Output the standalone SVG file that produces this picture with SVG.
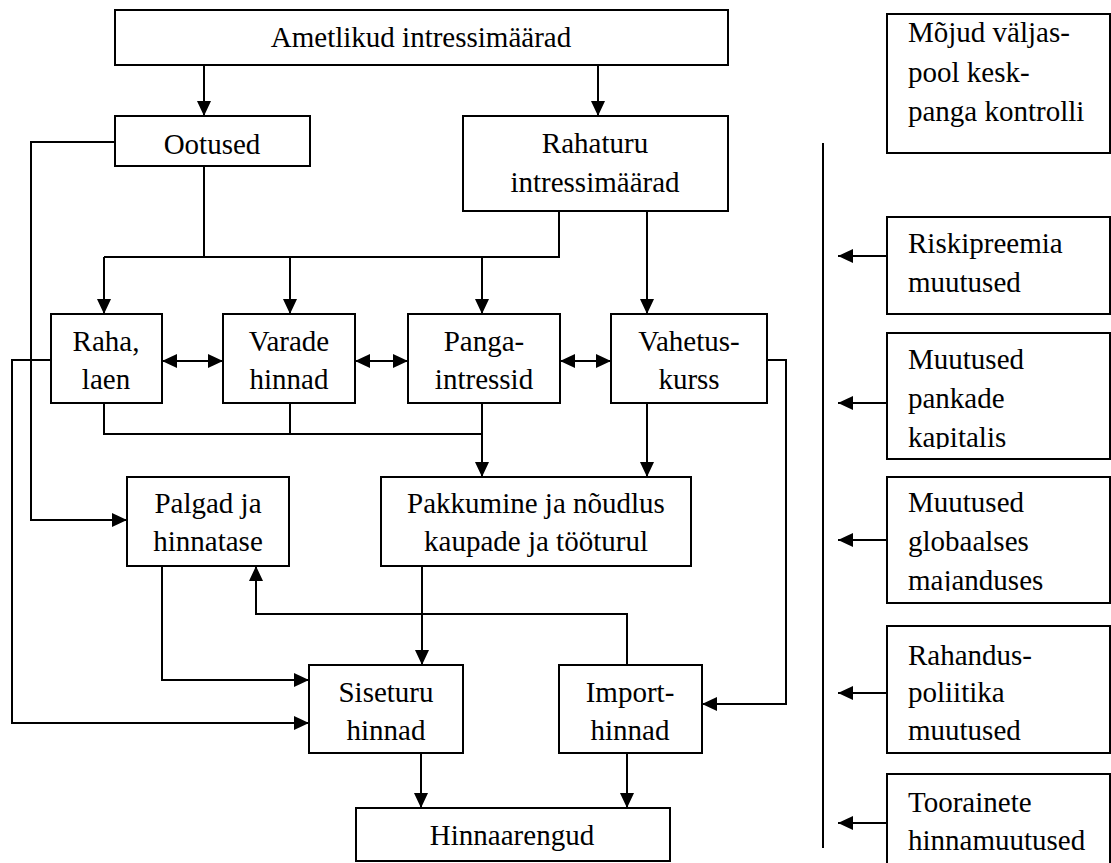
<svg xmlns="http://www.w3.org/2000/svg" width="1111" height="863" viewBox="0 0 1111 863">
<style>
  .box { fill: #ffffff; stroke: #000000; stroke-width: 2; }
  .ln { fill: none; stroke: #000000; stroke-width: 2; }
  text { font-family: "Liberation Serif", "Times New Roman", serif; font-size: 29px; fill: #000000; }
  .c { text-anchor: middle; }
</style>
<defs>
  <marker id="ah" viewBox="0 0 15 14" refX="15" refY="7" markerWidth="15" markerHeight="14" markerUnits="userSpaceOnUse" orient="auto-start-reverse">
    <path d="M0,0 L15,7 L0,14 Z" fill="#000000"/>
  </marker>
  <clipPath id="clipKap"><rect x="888" y="333" width="222" height="116"/></clipPath>
  <clipPath id="clipMaj"><rect x="888" y="477" width="222" height="114"/></clipPath>
  <clipPath id="clipPak"><rect x="381" y="477" width="310" height="80"/></clipPath>
</defs>
<rect width="1111" height="863" fill="#ffffff"/>

<g id="connectors">
  <line class="ln" x1="204" y1="65" x2="204" y2="116" marker-end="url(#ah)"/>
  <line class="ln" x1="598" y1="65" x2="598" y2="116" marker-end="url(#ah)"/>
  <polyline class="ln" points="204,166 204,257"/>
  <polyline class="ln" points="559,211 559,257 104,257"/>
  <line class="ln" x1="104" y1="257" x2="104" y2="314" marker-end="url(#ah)"/>
  <line class="ln" x1="290" y1="257" x2="290" y2="314" marker-end="url(#ah)"/>
  <line class="ln" x1="482" y1="257" x2="482" y2="314" marker-end="url(#ah)"/>
  <line class="ln" x1="647" y1="211" x2="647" y2="314" marker-end="url(#ah)"/>
  <polyline class="ln" points="115,142 31,142 31,520 127,520" marker-end="url(#ah)"/>
  <polyline class="ln" points="51,360 12,360 12,723 309,723" marker-end="url(#ah)"/>
  <line class="ln" x1="162" y1="361" x2="223" y2="361" marker-start="url(#ah)" marker-end="url(#ah)"/>
  <line class="ln" x1="355" y1="361" x2="408" y2="361" marker-start="url(#ah)" marker-end="url(#ah)"/>
  <line class="ln" x1="560" y1="361" x2="611" y2="361" marker-start="url(#ah)" marker-end="url(#ah)"/>
  <polyline class="ln" points="104,403 104,434 482,434"/>
  <line class="ln" x1="290" y1="403" x2="290" y2="434"/>
  <line class="ln" x1="482" y1="403" x2="482" y2="477" marker-end="url(#ah)"/>
  <line class="ln" x1="647" y1="403" x2="647" y2="477" marker-end="url(#ah)"/>
  <polyline class="ln" points="767,360 786,360 786,704 702,704" marker-end="url(#ah)"/>
  <polyline class="ln" points="162,566 162,680 309,680" marker-end="url(#ah)"/>
  <polyline class="ln" points="627,665 627,614 256,614 256,566" marker-end="url(#ah)"/>
  <line class="ln" x1="422" y1="566" x2="422" y2="665" marker-end="url(#ah)"/>
  <line class="ln" x1="421" y1="753" x2="421" y2="808" marker-end="url(#ah)"/>
  <line class="ln" x1="627" y1="753" x2="627" y2="808" marker-end="url(#ah)"/>
  <line class="ln" x1="823" y1="143" x2="823" y2="848"/>
  <line class="ln" x1="887" y1="256" x2="838" y2="256" marker-end="url(#ah)"/>
  <line class="ln" x1="887" y1="403" x2="838" y2="403" marker-end="url(#ah)"/>
  <line class="ln" x1="887" y1="540" x2="838" y2="540" marker-end="url(#ah)"/>
  <line class="ln" x1="887" y1="693" x2="838" y2="693" marker-end="url(#ah)"/>
  <line class="ln" x1="887" y1="823" x2="838" y2="823" marker-end="url(#ah)"/>
</g>

<g id="ametlikud">
  <rect class="box" x="115" y="10" width="613" height="55"/>
  <text class="c" x="421" y="47">Ametlikud intressimäärad</text>
</g>
<g id="ootused">
  <rect class="box" x="115" y="116" width="195" height="50"/>
  <text class="c" x="212" y="154">Ootused</text>
</g>
<g id="rahaturu">
  <rect class="box" x="463" y="116" width="265" height="95"/>
  <text class="c" x="595" y="153">Rahaturu</text>
  <text class="c" x="595" y="192">intressimäärad</text>
</g>
<g id="raha">
  <rect class="box" x="51" y="314" width="111" height="89"/>
  <text class="c" x="106" y="351">Raha,</text>
  <text class="c" x="106" y="389">laen</text>
</g>
<g id="varade">
  <rect class="box" x="223" y="314" width="132" height="89"/>
  <text class="c" x="289" y="351">Varade</text>
  <text class="c" x="289" y="389">hinnad</text>
</g>
<g id="panga">
  <rect class="box" x="408" y="314" width="152" height="89"/>
  <text class="c" x="484" y="351">Panga-</text>
  <text class="c" x="484" y="389">intressid</text>
</g>
<g id="vahetus">
  <rect class="box" x="611" y="314" width="156" height="89"/>
  <text class="c" x="689" y="351">Vahetus-</text>
  <text class="c" x="689" y="389">kurss</text>
</g>
<g id="palgad">
  <rect class="box" x="127" y="477" width="162" height="89"/>
  <text class="c" x="208" y="513">Palgad ja</text>
  <text class="c" x="208" y="551">hinnatase</text>
</g>
<g id="pakkumine">
  <rect class="box" x="381" y="477" width="310" height="89"/>
  <text class="c" x="536" y="513">Pakkumine ja nõudlus</text>
  <text class="c" x="536" y="551" clip-path="url(#clipPak)">kaupade ja tööturul</text>
</g>
<g id="siseturu">
  <rect class="box" x="309" y="665" width="154" height="88"/>
  <text class="c" x="386" y="702">Siseturu</text>
  <text class="c" x="386" y="740">hinnad</text>
</g>
<g id="import">
  <rect class="box" x="559" y="665" width="143" height="88"/>
  <text class="c" x="630" y="702">Import-</text>
  <text class="c" x="630" y="740">hinnad</text>
</g>
<g id="hinnaarengud">
  <rect class="box" x="356" y="808" width="314" height="53"/>
  <text class="c" x="512" y="845">Hinnaarengud</text>
</g>

<g id="mojud">
  <rect class="box" x="887" y="14" width="223" height="139"/>
  <text x="908" y="42">Mõjud väljas-</text>
  <text x="908" y="82">pool kesk-</text>
  <text x="908" y="121">panga kontrolli</text>
</g>
<g id="riskipreemia">
  <rect class="box" x="887" y="217" width="223" height="97"/>
  <text x="908" y="253">Riskipreemia</text>
  <text x="908" y="292">muutused</text>
</g>
<g id="pankade">
  <rect class="box" x="887" y="333" width="223" height="126"/>
  <text x="908" y="369">Muutused</text>
  <text x="908" y="408">pankade</text>
  <text x="908" y="447" clip-path="url(#clipKap)">kapitalis</text>
</g>
<g id="globaalses">
  <rect class="box" x="887" y="477" width="223" height="126"/>
  <text x="908" y="512">Muutused</text>
  <text x="908" y="551">globaalses</text>
  <text x="908" y="590" clip-path="url(#clipMaj)">majanduses</text>
</g>
<g id="rahandus">
  <rect class="box" x="887" y="626" width="223" height="127"/>
  <text x="908" y="665">Rahandus-</text>
  <text x="908" y="702">poliitika</text>
  <text x="908" y="740">muutused</text>
</g>
<g id="toorainete">
  <rect class="box" x="887" y="774" width="223" height="95"/>
  <text x="908" y="812">Toorainete</text>
  <text x="908" y="850">hinnamuutused</text>
</g>
</svg>
